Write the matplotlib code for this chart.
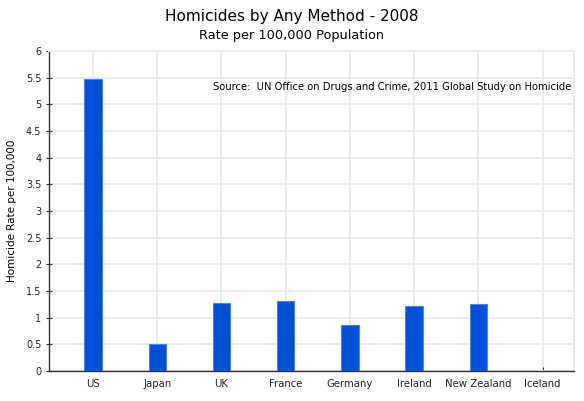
import matplotlib
matplotlib.use("Agg")
import matplotlib.pyplot as plt

categories = ["US", "Japan", "UK", "France", "Germany", "Ireland", "New Zealand", "Iceland"]
rates = [5.47, 0.50, 1.275, 1.31, 0.86, 1.21, 1.25, 0.0]
yticks = [0, 0.5, 1, 1.5, 2, 2.5, 3, 3.5, 4, 4.5, 5, 5.5, 6]
ytick_labels = ["0", "0.5", "1", "1.5", "2", "2.5", "3", "3.5", "4", "4.5", "5", "5.5", "6"]

plt.rcParams['font.family'] = ['DejaVu Sans']

fig = plt.figure(figsize=(5.84, 4.01), dpi=100)
ax = fig.add_axes([49/584, 1 - 371/401, (574-49)/584, (371-51)/401])

x = list(range(len(categories)))
ax.bar(x, rates, width=0.27, color="#0050d8", edgecolor="#4a85ec", linewidth=0.8, zorder=3)

ax.set_xlim(-0.685, 7.49)
ax.set_ylim(0, 6)
ax.set_xticks(x)
ax.set_xticklabels(categories, fontsize=7.3, color="#222222")
ax.set_yticks(yticks)
ax.set_yticklabels(ytick_labels, fontsize=7, color="#222222")

ax.grid(True, color="#ebebeb", linewidth=1.4, zorder=0)
ax.set_axisbelow(True)
for s in ["top", "right"]:
    ax.spines[s].set_color("#ebebeb")
    ax.spines[s].set_linewidth(1.4)
for s in ["left", "bottom"]:
    ax.spines[s].set_color("#333333")
    ax.spines[s].set_linewidth(1.0)
ax.tick_params(axis="x", direction="in", length=3, color="#333333", pad=6)
ax.tick_params(axis="y", direction="inout", length=5, color="#333333", pad=3)

ax.set_ylabel("Homicide Rate per 100,000", fontsize=7.5)
ax.yaxis.set_label_coords((17 - 49) / 525, 0.5)

ax.text(0.995, 0.888, "Source:  UN Office on Drugs and Crime, 2011 Global Study on Homicide",
        transform=ax.transAxes, ha="right", va="center", fontsize=7.2)

fig.text(0.5, 1 - 16/401, "Homicides by Any Method - 2008", ha="center", va="center", fontsize=11)
fig.text(0.5, 1 - 36/401, "Rate per 100,000 Population", ha="center", va="center", fontsize=9.3)

fig.savefig("out.png", dpi=100)
